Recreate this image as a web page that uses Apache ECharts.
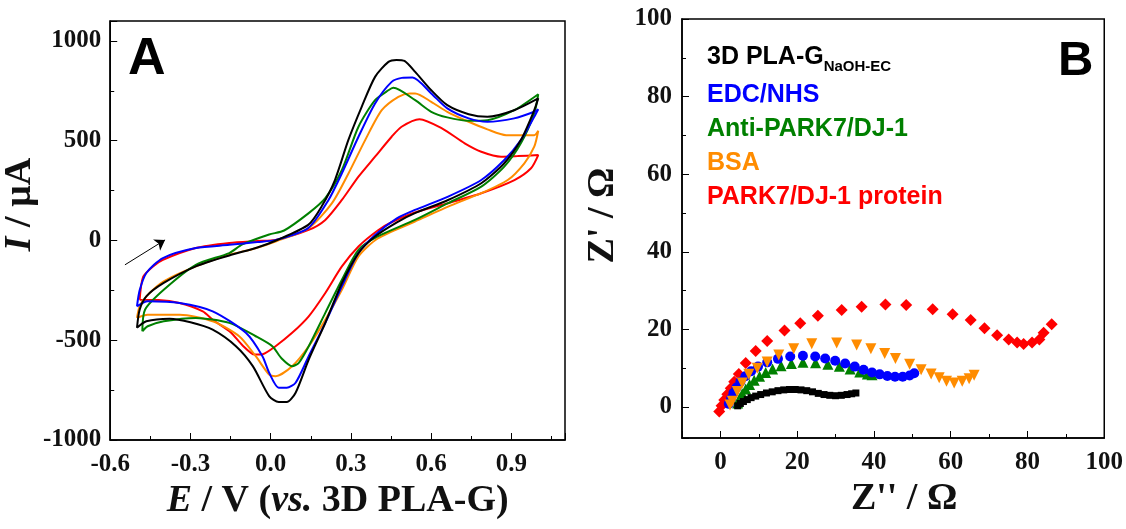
<!DOCTYPE html>
<html>
<head>
<meta charset="utf-8">
<script src="https://cdn.jsdelivr.net/npm/echarts@6/dist/echarts.min.js"></script>
<style>
  html, body { margin: 0; padding: 0; background: #fff; }
  #chart { width: 1126px; height: 529px; }
</style>
</head>
<body>
<div id="chart"></div>
<script>
// names of the five electrode stages
const stages = ['3D PLA-G', 'EDC/NHS', 'Anti-PARK7/DJ-1', 'BSA', 'PARK7/DJ-1 protein'];
const colors = ['#000000', '#0000ff', '#008000', '#ff8c00', '#ff0000'];

// panel A: cyclic voltammograms, [E (V), I (uA)], forward then reverse scan
const cvBare = [
  [-0.50, -438], [-0.49, -347], [-0.465, -280], [-0.40, -213], [-0.28, -130], [-0.155, -75],
  [-0.05, -35], [0.02, 0], [0.14, 78], [0.19, 170], [0.24, 303], [0.29, 503], [0.34, 670],
  [0.39, 820], [0.44, 895], [0.47, 905], [0.50, 900], [0.54, 845], [0.60, 753], [0.66, 678],
  [0.74, 633], [0.81, 620], [0.91, 653], [1.00, 712],
  [0.985, 653], [0.935, 503], [0.873, 387], [0.787, 287], [0.663, 203], [0.539, 137],
  [0.47, 90], [0.39, 20], [0.328, -63], [0.266, -213], [0.204, -413], [0.142, -597],
  [0.093, -763], [0.06, -810], [0.03, -810], [-0.006, -780], [-0.067, -630], [-0.13, -530],
  [-0.217, -447], [-0.30, -410], [-0.378, -392], [-0.465, -405], [-0.50, -438]
];
const cvEdc = [
  [-0.50, -330], [-0.49, -250], [-0.465, -163], [-0.403, -88], [-0.28, -38], [-0.155, -22],
  [-0.05, -8], [0.02, 3], [0.14, 62], [0.216, 203], [0.266, 337], [0.328, 520], [0.39, 687],
  [0.452, 795], [0.49, 815], [0.53, 817], [0.60, 737], [0.66, 662], [0.74, 612], [0.81, 595],
  [0.91, 612], [0.985, 645], [1.00, 658],
  [0.985, 620], [0.935, 503], [0.873, 403], [0.787, 303], [0.663, 220], [0.539, 153],
  [0.47, 110], [0.39, 28], [0.328, -63], [0.266, -230], [0.204, -413], [0.142, -580],
  [0.093, -713], [0.06, -738], [0.03, -738], [-0.006, -663], [-0.031, -580], [-0.093, -463],
  [-0.217, -355], [-0.341, -313], [-0.46, -305], [-0.50, -330]
];
const cvAnti = [
  [-0.48, -455], [-0.47, -347], [-0.40, -247], [-0.28, -122], [-0.155, -63], [-0.106, -20],
  [-0.006, 30], [0.05, 50], [0.142, 137], [0.204, 212], [0.266, 353], [0.328, 570],
  [0.39, 703], [0.44, 753], [0.458, 765], [0.54, 703], [0.60, 645], [0.66, 617], [0.74, 600],
  [0.81, 603], [0.91, 653], [1.00, 733],
  [0.985, 637], [0.935, 487], [0.873, 370], [0.787, 270], [0.663, 187], [0.539, 103],
  [0.40, 20], [0.328, -47], [0.266, -197], [0.204, -363], [0.142, -530], [0.105, -613],
  [0.08, -630], [0.04, -590], [0.006, -530], [-0.056, -480], [-0.155, -413], [-0.28, -388],
  [-0.40, -405], [-0.46, -430], [-0.48, -455]
];
const cvBsa = [
  [-0.50, -388], [-0.49, -330], [-0.465, -280], [-0.40, -205], [-0.28, -130], [-0.155, -72],
  [-0.06, -40], [0.018, -5], [0.142, 62], [0.229, 187], [0.291, 337], [0.353, 503],
  [0.415, 653], [0.477, 720], [0.52, 737], [0.54, 737], [0.60, 695], [0.66, 645], [0.74, 595],
  [0.81, 557], [0.88, 528], [0.985, 528], [1.00, 550],
  [0.985, 470], [0.948, 387], [0.886, 303], [0.787, 237], [0.663, 170], [0.539, 95],
  [0.40, 10], [0.328, -80], [0.266, -247], [0.204, -397], [0.142, -530], [0.08, -630],
  [0.018, -680], [-0.006, -672], [-0.056, -580], [-0.118, -480], [-0.217, -405],
  [-0.34, -372], [-0.46, -372], [-0.50, -388]
];
const cvProtein = [
  [-0.49, -297], [-0.477, -183], [-0.44, -130], [-0.403, -97], [-0.28, -38], [-0.155, -13],
  [-0.05, -3], [0.018, 3], [0.142, 53], [0.204, 103], [0.266, 203], [0.328, 320], [0.39, 420],
  [0.452, 520], [0.489, 570], [0.556, 608], [0.64, 562], [0.725, 487], [0.787, 445],
  [0.861, 420], [0.923, 423], [1.00, 428],
  [0.973, 362], [0.911, 303], [0.787, 237], [0.663, 187], [0.539, 140], [0.45, 90],
  [0.40, 50], [0.328, -30], [0.266, -130], [0.204, -263], [0.142, -380], [0.08, -463],
  [0.018, -530], [-0.03, -570], [-0.06, -572], [-0.106, -525], [-0.15, -460], [-0.217, -397],
  [-0.254, -355], [-0.341, -313], [-0.42, -298], [-0.49, -297]
];
// scan direction arrow, [E, I] from tail to head
const arrowA = [[-0.545, -122], [-0.395, 3]];

// panel B: Nyquist plots, [Z'' (ohm), Z' (ohm)]
const eisBare = [
  [4.5, 0.3], [5.2, 0.9], [6.0, 1.4], [7.0, 1.9], [8.0, 2.4], [9.2, 2.8], [10.5, 3.2],
  [12.0, 3.6], [13.5, 3.9], [15.0, 4.2], [16.5, 4.4], [18.0, 4.5], [19.5, 4.5], [21.0, 4.4],
  [22.5, 4.2], [24.0, 3.9], [25.5, 3.5], [27.0, 3.2], [28.5, 3.0], [30.0, 2.9], [31.5, 3.0],
  [33.0, 3.2], [34.2, 3.4], [35.3, 3.6]
];
const eisEdc = [
  [2.2, 0.8], [2.8, 2.2], [3.4, 3.6], [4.2, 5.0], [5.2, 6.5], [6.5, 7.9], [8.0, 9.2],
  [9.8, 10.4], [12.2, 11.5], [15.0, 12.4], [18.2, 13.0], [21.5, 13.2], [24.7, 13.0],
  [27.3, 12.5], [29.9, 11.9], [32.5, 11.2], [35.0, 10.4], [37.3, 9.6], [39.5, 8.9],
  [41.5, 8.4], [43.5, 8.0], [45.5, 7.8], [47.5, 7.8], [49.3, 8.1], [50.5, 8.7]
];
const eisAnti = [
  [4.5, 1.0], [5.0, 2.2], [5.7, 3.4], [6.6, 4.6], [7.6, 5.8], [8.8, 6.9], [10.2, 7.9],
  [11.8, 8.9], [13.6, 9.8], [15.8, 10.6], [18.5, 11.2], [21.5, 11.5], [24.8, 11.4],
  [28.0, 11.0], [31.0, 10.5], [33.8, 9.8], [36.3, 9.0], [38.3, 8.5], [39.5, 8.3]
];
const eisBsa = [
  [2.5, 0.5], [3.1, 1.5], [4.4, 4.0], [5.7, 6.2], [7.4, 8.4], [9.6, 10.0], [12.2, 11.6],
  [15.2, 13.4], [19.1, 15.0], [23.8, 16.3], [30.3, 16.5], [35.5, 16.0], [39.2, 15.0],
  [42.8, 13.8], [45.6, 12.5], [49.3, 11.0], [52.3, 9.6], [54.9, 8.5], [57.0, 7.5],
  [58.9, 6.6], [60.9, 6.2], [63.0, 6.6], [64.8, 7.3], [66.1, 8.2]
];
const eisProtein = [
  [-0.3, -1.2], [0.3, 0.3], [1.0, 1.8], [1.8, 3.3], [2.7, 4.8], [3.6, 6.5], [4.8, 8.5],
  [6.6, 11.3], [9.2, 14.4], [12.2, 17.0], [16.7, 19.7], [20.8, 21.6], [25.4, 23.5],
  [31.6, 25.0], [36.8, 25.8], [43.0, 26.4], [48.4, 26.3], [55.3, 25.2], [60.5, 23.9],
  [65.2, 22.4], [68.8, 20.3], [72.1, 18.5], [75.1, 17.4], [77.3, 16.6], [79.0, 16.2],
  [81.2, 16.6], [83.1, 17.4], [84.2, 19.1], [86.3, 21.3]
];

const cvData = [cvBare, cvEdc, cvAnti, cvBsa, cvProtein];
const eisData = [eisBare, eisEdc, eisAnti, eisBsa, eisProtein];
const eisSymbols = ['rect', 'circle', 'triangle', 'path://M0,0 L10,0 L5,9 Z', 'diamond'];
const eisSizes = [7, 10, 11, 11, 12];

const chart = echarts.init(document.getElementById('chart'));

const serif = 'Liberation Serif';
const sans = 'Liberation Sans';
const tickLabel = { color: '#111', fontFamily: serif, fontWeight: 'bold', fontSize: 25 };
const nameStyle = { color: '#111', fontFamily: serif, fontWeight: 'bold', fontSize: 38 };

function axisBase(extra) {
  return Object.assign({
    type: 'value',
    splitLine: { show: false },
    axisLine: { show: true, onZero: false, lineStyle: { color: '#000', width: 1.5 } },
    axisTick: { show: true, inside: true, length: 7, lineStyle: { color: '#000', width: 1 } },
    minorTick: { show: true, splitNumber: 2, length: 4, lineStyle: { color: '#000', width: 1 } },
    nameLocation: 'middle',
    nameTextStyle: nameStyle
  }, extra);
}

const series = [];
cvData.forEach((d, i) => {
  series.push({
    name: stages[i], type: 'line', xAxisIndex: 0, yAxisIndex: 0,
    data: d, symbol: 'none', smooth: 0.25,
    lineStyle: { color: colors[i], width: 2 }, itemStyle: { color: colors[i] },
    z: 2 + (4 - i)
  });
});
series.push({
  type: 'lines', coordinateSystem: 'cartesian2d', xAxisIndex: 0, yAxisIndex: 0,
  symbol: ['none', 'arrow'], symbolSize: 10,
  lineStyle: { color: '#000', width: 1, opacity: 1 },
  data: [{ coords: arrowA }]
});
[4, 2, 1, 3, 0].forEach(i => {
  series.push({
    name: stages[i], type: 'scatter', xAxisIndex: 1, yAxisIndex: 1,
    data: eisData[i], symbol: eisSymbols[i], symbolSize: eisSizes[i],
    itemStyle: { color: colors[i], opacity: 1 }
  });
});

const option = {
  animation: false,
  backgroundColor: '#fff',
  grid: [
    { left: 107, right: 561, top: 21, bottom: 89, show: true, borderColor: '#000', borderWidth: 1.5 },
    { left: 682, right: 21, top: 19, bottom: 91, show: true, borderColor: '#000', borderWidth: 1.5 }
  ],
  xAxis: [
    axisBase({
      gridIndex: 0, min: -0.6, max: 1.1, interval: 0.3,
      axisLabel: Object.assign({ margin: 12, showMaxLabel: false, formatter: v => v.toFixed(1) }, tickLabel),
      name: '{i|E} / V ({i|vs.} 3D PLA-G)', nameGap: 42,
      nameTextStyle: Object.assign({}, nameStyle, { rich: { i: Object.assign({}, nameStyle, { fontStyle: 'italic' }) } })
    }),
    axisBase({
      gridIndex: 1, min: -10, max: 100, splitNumber: 5,
      axisLabel: Object.assign({ margin: 12, showMinLabel: false, formatter: v => String(v) }, tickLabel),
      name: "Z'' / Ω", nameGap: 42,
      nameTextStyle: Object.assign({}, nameStyle, { padding: [0, 0, 0, 22] })
    })
  ],
  yAxis: [
    axisBase({
      gridIndex: 0, min: -1000, max: 1100, interval: 500,
      axisLabel: Object.assign({ margin: 9, showMaxLabel: false, formatter: v => String(v) }, tickLabel),
      name: '{i|I} / μA', nameGap: 64,
      nameTextStyle: Object.assign({}, nameStyle, {
        padding: [0, 0, 0, 52],
        rich: { i: Object.assign({}, nameStyle, { fontStyle: 'italic' }) }
      })
    }),
    axisBase({
      gridIndex: 1, min: -8, max: 100, splitNumber: 5,
      axisLabel: Object.assign({ margin: 10, showMinLabel: false, formatter: v => String(v) }, tickLabel),
      name: "Z' / Ω", nameGap: 60,
      nameTextStyle: Object.assign({}, nameStyle, { padding: [0, 0, 0, 26] })
    })
  ],
  legend: {
    orient: 'vertical', left: 702, top: 40, padding: 0, itemGap: 8,
    itemWidth: 0, itemHeight: 0, icon: 'none', selectedMode: false,
    textStyle: {
      fontFamily: sans, fontWeight: 'bold', fontSize: 25, lineHeight: 26,
      rich: {
        m: { fontFamily: sans, fontWeight: 'bold', fontSize: 25, lineHeight: 25, verticalAlign: 'top' },
        s: { fontFamily: sans, fontWeight: 'bold', fontSize: 15, lineHeight: 15, padding: [19, 0, 0, 0] }
      }
    },
    formatter: name => name === stages[0] ? '{m|3D PLA-G}{s|NaOH-EC}' : name,
    data: stages.map((s, i) => ({ name: s, icon: 'none', textStyle: { color: colors[i] } }))
  },
  graphic: [
    { type: 'text', left: 128, top: 34, style: { text: 'A', font: 'bold 52px "Liberation Sans"', fill: '#000' } },
    { type: 'text', left: 1058, top: 37, style: { text: 'B', font: 'bold 49px "Liberation Sans"', fill: '#000' } }
  ],
  series: series
};

chart.setOption(option);
</script>
</body>
</html>
